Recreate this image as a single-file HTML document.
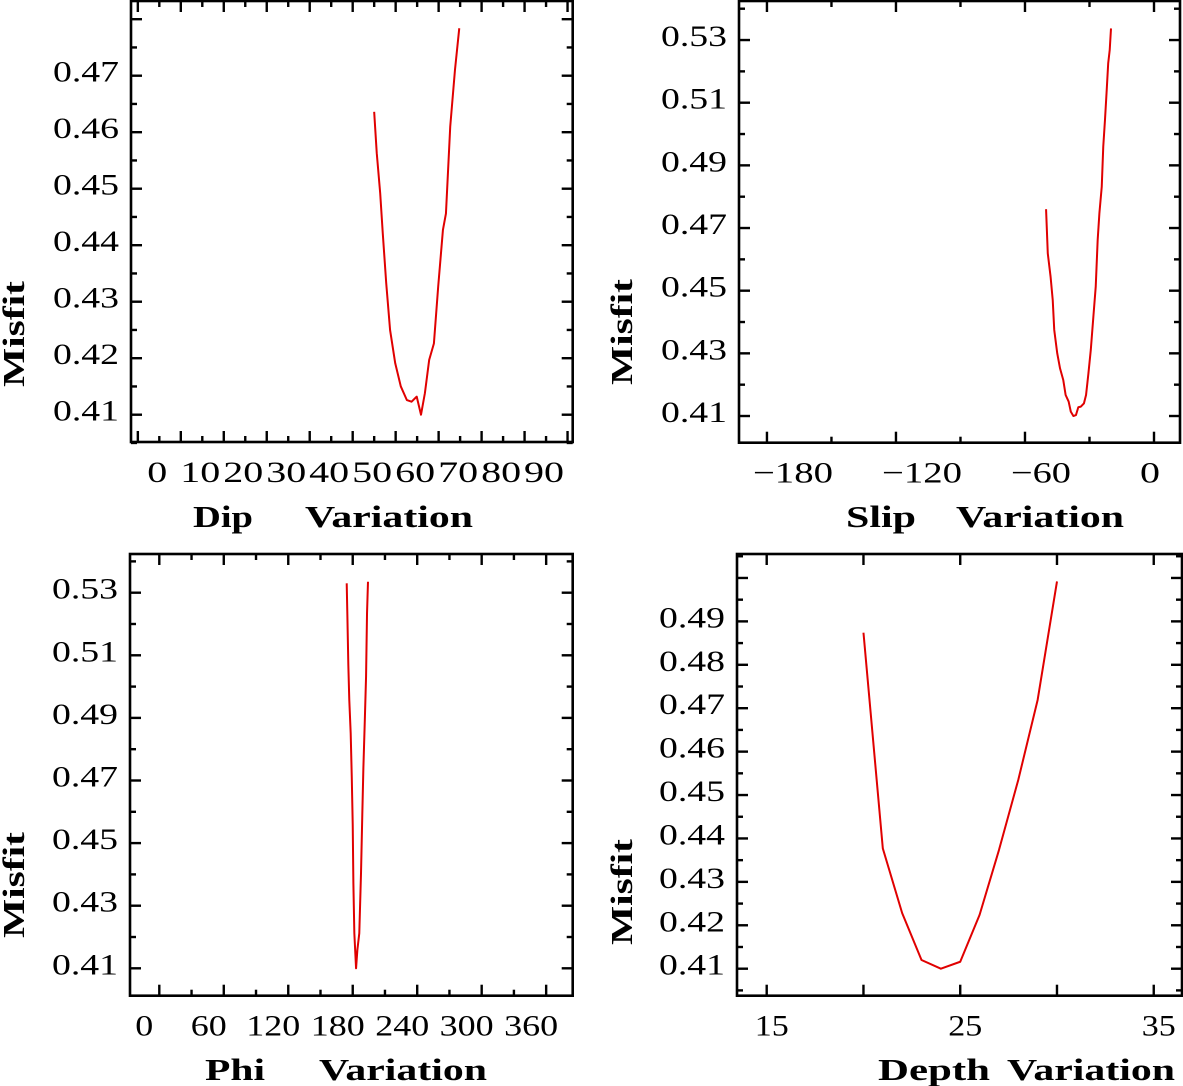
<!DOCTYPE html>
<html><head><meta charset="utf-8"><style>
html,body{margin:0;padding:0;background:#fff;}
svg{display:block;}
text{font-family:"Liberation Serif",serif;fill:#000;}
</style></head><body>
<svg id="chart" width="1183" height="1086" viewBox="0 0 1183 1086" xmlns="http://www.w3.org/2000/svg"></svg>
<script>
// ---- Dip panel data ----
const dipX = [50.0,50.6,51.4,52.0,52.8,53.7,54.9,56.2,57.6,58.7,59.9,60.9,61.8,62.8,63.9,64.9,66.0,66.7,67.7,68.8,69.8];
const dipY = [0.4636,0.4563,0.4492,0.4421,0.4333,0.4250,0.4191,0.4150,0.4126,0.4123,0.4132,0.4100,0.4138,0.4197,0.4226,0.4327,0.4427,0.4456,0.4610,0.4710,0.4784];
const dipXLabels = ["0","10","20","30","40","50","60","70","80","90"];
const dipYLabels = ["0.41","0.42","0.43","0.44","0.45","0.46","0.47"];
// ---- Slip panel data ----
const slipX = [-50.2,-49.4,-48.1,-47.1,-46.4,-45.0,-43.7,-42.2,-41.1,-39.7,-38.7,-37.5,-36.3,-35.2,-34.0,-32.6,-31.6,-30.5,-29.4,-28.2,-27.1,-26.2,-25.4,-24.3,-23.6,-22.8,-22.0,-21.3,-20.6,-20.0];
const slipY = [0.4760,0.4619,0.4545,0.4470,0.4375,0.4300,0.4252,0.4215,0.4167,0.4146,0.4114,0.4100,0.4103,0.4128,0.4130,0.4140,0.4167,0.4236,0.4311,0.4417,0.4513,0.4662,0.4747,0.4832,0.4960,0.5045,0.5140,0.5226,0.5268,0.5337];
const slipXLabels = ["\u2212180","\u2212120","\u221260","0"];
const slipYLabels = ["0.41","0.43","0.45","0.47","0.49","0.51","0.53"];
// ---- Phi panel data ----
const phiX = [174.4,175.0,175.9,176.8,178.1,179.1,180.0,180.6,181.5,183.1,184.3,186.1,187.7,188.9,189.9,191.2,192.4,193.3,194.2];
const phiY = [0.5330,0.5229,0.5069,0.4957,0.4851,0.4712,0.4558,0.4372,0.4212,0.4100,0.4158,0.4212,0.4404,0.4590,0.4739,0.4888,0.5032,0.5234,0.5335];
const phiXLabels = ["0","60","120","180","240","300","360"];
const phiYLabels = ["0.41","0.43","0.45","0.47","0.49","0.51","0.53"];
// ---- Depth panel data ----
const depthX = [20,21,22,23,24,25,26,27,28,29,30];
const depthY = [0.4874,0.4377,0.4228,0.4120,0.4100,0.4116,0.4224,0.4373,0.4535,0.4719,0.4992];
const depthXLabels = ["15","25","35"];
const depthYLabels = ["0.41","0.42","0.43","0.44","0.45","0.46","0.47","0.48","0.49"];

const NS = "http://www.w3.org/2000/svg";
const svg = document.getElementById("chart");
function mk(tag, attrs, parent){ const e=document.createElementNS(NS,tag); for(const k in attrs) e.setAttribute(k,attrs[k]); (parent||svg).appendChild(e); return e; }

function panel(c){
  const g = mk("g",{});
  
  
  const sx = v => c.L + (v - c.xmin)/(c.xmax - c.xmin)*(c.R - c.L);
  const sy = v => c.B - (v - c.ymin)/(c.ymax - c.ymin)*(c.B - c.T);
  const frame = mk("rect",{x:c.L,y:c.T,width:c.R-c.L,height:c.B-c.T,fill:"none",stroke:"#000","stroke-width":2.6},g);
  
  
  for(let v=c.xt0; v<=c.xt1+1e-9; v+=c.xstep){
    const isMajor = Math.abs(((v - c.xt0)/c.xstep) % c.xmajEvery) < 1e-6;
    const len = isMajor ? 11 : 6;
    const x = sx(v);
    const t1 = mk("line",{x1:x,x2:x,y1:c.B,y2:c.B-len,stroke:"#000","stroke-width":2.4},g);
    
    
    const t2 = mk("line",{x1:x,x2:x,y1:c.T,y2:c.T+len,stroke:"#000","stroke-width":2.4},g);
    
    
  }
  for(let i=0; ; i++){
    const v = c.yt0 + i*c.ystep; if(v > c.yt1+1e-9) break;
    const isMajor = i % c.ymajEvery === c.ymajOff;
    const len = isMajor ? 11 : 6;
    const y = sy(v);
    const t1 = mk("line",{x1:c.L,x2:c.L+len,y1:y,y2:y,stroke:"#000","stroke-width":2.4},g);
    
    
    const t2 = mk("line",{x1:c.R,x2:c.R-len,y1:y,y2:y,stroke:"#000","stroke-width":2.4},g);
    
    
  }
  c.xLabels.forEach((s,i)=>{
    const v = c.xl0 + i*c.xlStep;
    const t = mk("text",{x:sx(v)+c.xlOff,y:c.B+40,"font-size":30,"text-anchor":c.xlAnchor,textLength:s.length*c.xcw,lengthAdjust:"spacingAndGlyphs"},g);
    t.textContent = s;
    
    
  });
  c.yLabels.forEach((s,i)=>{
    const v = c.yl0 + i*c.ylStep;
    const t = mk("text",{x:c.L-12,y:sy(v)+6,"font-size":30,"text-anchor":"end",textLength:66,lengthAdjust:"spacingAndGlyphs"},g);
    t.textContent = s;
    
    
  });
  const ta = mk("text",{x:c.t1x,y:c.ty,"font-size":31,textLength:c.t1w,lengthAdjust:"spacingAndGlyphs","font-weight":"bold"},g);
  ta.textContent = c.t1;
  
  
  const tb = mk("text",{x:c.t2x,y:c.ty,"font-size":31,textLength:c.t2w,lengthAdjust:"spacingAndGlyphs","font-weight":"bold"},g);
  tb.textContent = "Variation";
  
  
  const t2 = mk("text",{x:0,y:0,"font-size":31,"text-anchor":"middle",textLength:106,lengthAdjust:"spacingAndGlyphs","font-weight":"bold",transform:`translate(${c.mx},${c.my}) rotate(-90)`},g);
  t2.textContent = "Misfit";
  
  
  const pts = c.xs.map((v,i)=>sx(v).toFixed(2)+","+sy(c.ys[i]).toFixed(2)).join(" ");
  const pl = mk("polyline",{points:pts,fill:"none",stroke:"#e00000","stroke-width":2,"stroke-linejoin":"round"},g);
  
  
}

panel({name:"dip-panel",L:131,R:572.7,T:1,B:442,xmin:-6.59,xmax:96.2,ymin:0.40517,ymax:0.48322,
  xt0:-5,xt1:95,xstep:5,xmajEvery:2,yt0:0.405,yt1:0.480,ystep:0.005,ymajEvery:2,ymajOff:1,
  xLabels:dipXLabels,xl0:0,xlStep:10,xlOff:-2,xlAnchor:"middle",xcw:20,yLabels:dipYLabels,yl0:0.41,ylStep:0.01,
  xs:dipX,ys:dipY,t1:"Dip",t1x:193,t1w:60,t2x:305,t2w:168,ty:527,mx:24,my:334});
panel({name:"slip-panel",L:739,R:1180,T:1,B:442.7,xmin:-193.0,xmax:12.09,ymin:0.40148,ymax:0.54246,
  xt0:-180,xt1:0,xstep:30,xmajEvery:2,yt0:0.41,yt1:0.54,ystep:0.01,ymajEvery:2,ymajOff:0,
  xLabels:slipXLabels,xl0:-180,xlStep:60,xlOff:-14,xlAnchor:"start",xcw:20,yLabels:slipYLabels,yl0:0.41,ylStep:0.02,
  xs:slipX,ys:slipY,t1:"Slip",t1x:846,t1w:70,t2x:956,t2w:168,ty:527,mx:632,my:332});
panel({name:"phi-panel",L:130,R:572.7,T:554,B:995.7,xmin:-27.27,xmax:384.7,ymin:0.40125,ymax:0.54236,
  xt0:0,xt1:360,xstep:30,xmajEvery:2,yt0:0.41,yt1:0.54,ystep:0.01,ymajEvery:2,ymajOff:0,
  xLabels:phiXLabels,xl0:0,xlStep:60,xlOff:-15,xlAnchor:"middle",xcw:18,yLabels:phiYLabels,yl0:0.41,ylStep:0.02,
  xs:phiX,ys:phiY,t1:"Phi",t1x:205,t1w:60,t2x:319,t2w:168,ty:1080,mx:24,my:885});
panel({name:"depth-panel",L:737,R:1182,T:554,B:995.7,xmin:13.465,xmax:36.46,ymin:0.40378,ymax:0.50552,
  xt0:15,xt1:35,xstep:5,xmajEvery:1,yt0:0.405,yt1:0.505,ystep:0.005,ymajEvery:2,ymajOff:1,
  xLabels:depthXLabels,xl0:15,xlStep:10,xlOff:5,xlAnchor:"middle",xcw:17,yLabels:depthYLabels,yl0:0.41,ylStep:0.01,
  xs:depthX,ys:depthY,t1:"Depth",t1x:878,t1w:112,t2x:1007,t2w:168,ty:1080,mx:632,my:892});
</script>
</body></html>
